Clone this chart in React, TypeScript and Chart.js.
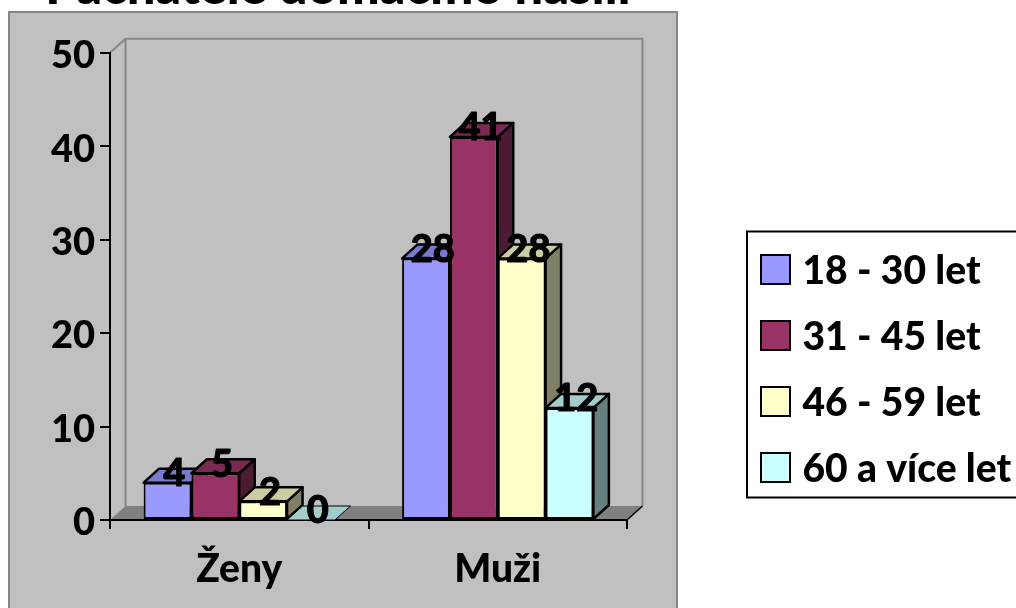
import React, { useEffect, useRef } from "react";
import { Chart, registerables } from "chart.js";

Chart.register(...registerables);

const chartTitle = "Pachatelé domácího násilí";
const categories = ["Ženy", "Muži"];
const seriesNames = ["18 - 30 let", "31 - 45 let", "46 - 59 let", "60 a více let"];
const series1 = [4, 28];
const series2 = [5, 41];
const series3 = [2, 28];
const series4 = [0, 12];
const seriesColors = ["#9999FF", "#993366", "#FFFFCC", "#CCFFFF"];
const topColors = ["#7A7ACC", "#7A2952", "#CCCCA3", "#A3CCCC"];
const sideColors = ["#4D4D80", "#4D1A33", "#808066", "#668080"];

const FONT = "Lato, Carlito, sans-serif";
const DX = 15.5;
const DY = 14;

const threeD = {
  id: "threeD",
  afterUpdate(chart: any) {
    const t = chart.titleBlock;
    if (t) {
      t.left = 8;
      t.right = 668;
      t.width = 660;
      t.top = -39;
      t.bottom = t.top + t.height;
    }
    const l = chart.legend;
    if (l) {
      l.left = 761 - 27;
      l.right = 1016;
      l.width = l.right - l.left;
      l.top = 223;
      l.bottom = 520;
      l.height = l.bottom - l.top;
      if (!l.__shifted) {
        l.__shifted = true;
        const origDraw = l.draw.bind(l);
        l.draw = (...args: any[]) => {
          const ctx = chart.ctx;
          const orig = ctx.fillText;
          ctx.fillText = function (s: string, x: number, y: number, m?: number) {
            return m === undefined ? orig.call(ctx, s, x - 7, y + 2) : orig.call(ctx, s, x - 7, y + 2, m);
          };
          origDraw(...args);
          ctx.fillText = orig;
        };
      }
    }
  },
  beforeDraw(chart: any) {
    const { ctx, chartArea: a } = chart;
    ctx.save();
    ctx.fillStyle = "#FFFFFF";
    ctx.fillRect(0, 0, chart.width, chart.height);
    // outer panel
    ctx.fillStyle = "#C0C0C0";
    ctx.strokeStyle = "#868686";
    ctx.lineWidth = 2;
    ctx.beginPath();
    ctx.rect(9, 12, 668, 620);
    ctx.fill();
    ctx.stroke();
    // back wall
    ctx.lineWidth = 2;
    ctx.beginPath();
    ctx.moveTo(a.left, a.top);
    ctx.lineTo(a.left + DX, a.top - DY);
    ctx.lineTo(a.right + DX, a.top - DY);
    ctx.lineTo(a.right + DX, a.bottom - DY);
    ctx.moveTo(a.left + DX, a.top - DY);
    ctx.lineTo(a.left + DX, a.bottom - DY);
    ctx.stroke();
    // floor
    ctx.fillStyle = "#808080";
    ctx.beginPath();
    ctx.moveTo(a.left, a.bottom);
    ctx.lineTo(a.left + DX, a.bottom - DY);
    ctx.lineTo(a.right + DX, a.bottom - DY);
    ctx.lineTo(a.right, a.bottom);
    ctx.closePath();
    ctx.fill();
    ctx.strokeStyle = "#000000";
    ctx.lineWidth = 1.5;
    ctx.beginPath();
    ctx.moveTo(a.right, a.bottom);
    ctx.lineTo(a.right + DX, a.bottom - DY);
    ctx.stroke();
    // legend frame
    ctx.fillStyle = "#FFFFFF";
    ctx.strokeStyle = "#000000";
    ctx.lineWidth = 2;
    ctx.beginPath();
    ctx.rect(747, 231.5, 300, 266);
    ctx.fill();
    ctx.stroke();
    ctx.restore();
  },
  beforeDatasetsDraw(chart: any) {
    const { ctx } = chart;
    ctx.save();
    ctx.strokeStyle = "#000000";
    ctx.lineJoin = "round";
    chart.data.datasets.forEach((_: any, di: number) => {
      chart.getDatasetMeta(di).data.forEach((bar: any) => {
        const { x, y, base, width } = bar.getProps(["x", "y", "base", "width"], true);
        const l = x - width / 2;
        const r = x + width / 2;
        const hasHeight = base - y > 0.5;
        ctx.lineWidth = hasHeight ? 2.5 : 1;
        if (hasHeight) {
          ctx.fillStyle = sideColors[di];
          ctx.beginPath();
          ctx.moveTo(r, y);
          ctx.lineTo(r + DX, y - DY);
          ctx.lineTo(r + DX, base - DY);
          ctx.lineTo(r, base);
          ctx.closePath();
          ctx.fill();
          ctx.stroke();
        }
        ctx.fillStyle = topColors[di];
        ctx.beginPath();
        ctx.moveTo(l, y);
        ctx.lineTo(l + DX, y - DY);
        ctx.lineTo(r + DX, y - DY);
        ctx.lineTo(r, y);
        ctx.closePath();
        ctx.fill();
        ctx.stroke();
      });
    });
    ctx.restore();
  },
  afterDatasetsDraw(chart: any) {
    const { ctx } = chart;
    ctx.save();
    ctx.fillStyle = "#000000";
    ctx.strokeStyle = "#000000";
    ctx.lineWidth = 1;
    ctx.lineJoin = "round";
    ctx.font = `900 38px ${FONT}`;
    ctx.textAlign = "center";
    ctx.textBaseline = "middle";
    chart.data.datasets.forEach((ds: any, di: number) => {
      chart.getDatasetMeta(di).data.forEach((bar: any, i: number) => {
        const { x, y } = bar.getProps(["x", "y"], true);
        const label = String(ds.data[i]);
        ctx.fillText(label, x + DX / 2 - 1, y - DY / 2 - 2);
        ctx.strokeText(label, x + DX / 2 - 1, y - DY / 2 - 2);
      });
    });
    ctx.restore();
  },
};

export default function App() {
  const ref = useRef<HTMLCanvasElement | null>(null);
  useEffect(() => {
    if (!ref.current) return;
    const values = [series1, series2, series3, series4];
    const chart = new Chart(ref.current, {
      type: "bar",
      data: {
        labels: categories,
        datasets: seriesNames.map((name, i) => ({
          label: name,
          data: values[i],
          backgroundColor: seriesColors[i],
          borderColor: "#000000",
          borderWidth: 2,
          borderSkipped: false,
          barPercentage: 1,
          categoryPercentage: 0.74,
        })),
      },
      options: {
        responsive: false,
        animation: false,
        events: [],
        layout: { padding: { left: 0, top: 0.2, right: 389, bottom: 0 } },
        plugins: {
          tooltip: { enabled: false },
          title: {
            display: true,
            text: chartTitle,
            color: "#000000",
            padding: 0,
            font: { family: FONT, weight: "900", size: 50.6, lineHeight: 1.04 },
          },
          legend: {
            display: true,
            position: "chartArea",
            align: "start",
            labels: {
              boxWidth: 29,
              boxHeight: 29,
              padding: 27,
              color: "#000000",
              font: { family: FONT, weight: "900", size: 39 },
            },
          },
        },
        scales: {
          x: {
            afterFit: (s: any) => {
              s.height = 88;
            },
            grid: {
              drawOnChartArea: false,
              drawTicks: true,
              tickLength: 9,
              color: "#000000",
              lineWidth: 2,
            },
            border: { color: "#000000", width: 2 },
            ticks: {
              color: "#000000",
              padding: 17,
              font: { family: FONT, weight: "900", size: 39 },
            },
          },
          y: {
            min: 0,
            max: 50,
            afterFit: (s: any) => {
              s.width = 110;
            },
            grid: {
              drawOnChartArea: false,
              drawTicks: true,
              tickLength: 10,
              color: "#000000",
              lineWidth: 2,
            },
            border: { color: "#000000", width: 2 },
            ticks: {
              stepSize: 10,
              color: "#000000",
              padding: 5,
              labelOffset: 3,
              font: { family: FONT, weight: "900", size: 38 },
            },
          },
        },
      },
      plugins: [threeD],
    } as any);
    return () => chart.destroy();
  }, []);
  return (
    <div style={{ position: "absolute", left: 0, top: 0, width: 1016, height: 608, overflow: "hidden" }}>
      <canvas ref={ref} width={1016} height={608} style={{ display: "block" }} />
    </div>
  );
}
